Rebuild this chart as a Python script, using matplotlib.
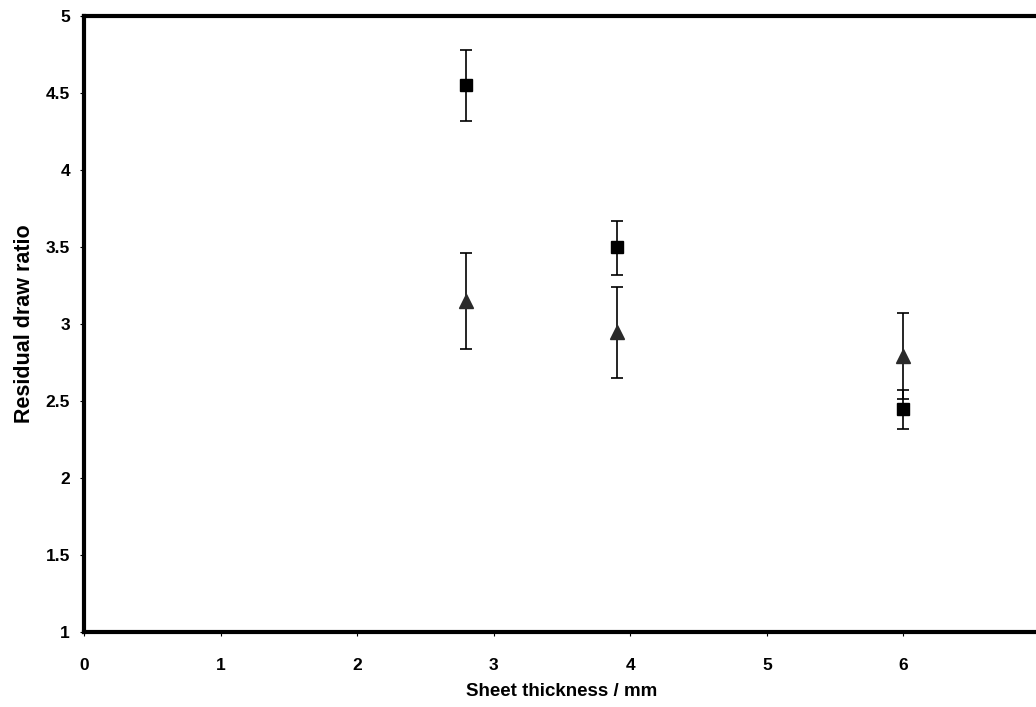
import matplotlib.pyplot as plt

plt.rcParams['font.family'] = ['Liberation Sans', 'DejaVu Sans']

# Residual draw ratio vs sheet thickness
thickness = [2.8, 3.9, 6.0]

square_ratio = [4.55, 3.50, 2.45]
square_err_lo = [0.23, 0.18, 0.13]
square_err_hi = [0.23, 0.17, 0.12]

triangle_ratio = [3.15, 2.95, 2.79]
triangle_err_lo = [0.31, 0.30, 0.28]
triangle_err_hi = [0.31, 0.29, 0.28]

x_ticks = [0, 1, 2, 3, 4, 5, 6, 7]
y_ticks = [1, 1.5, 2, 2.5, 3, 3.5, 4, 4.5, 5]

fig = plt.figure(figsize=(10.36, 7.07), dpi=100)
ax = fig.add_axes([84 / 1036, 75 / 707, 956 / 1036, 616 / 707])

ax.errorbar(thickness, triangle_ratio, yerr=[triangle_err_lo, triangle_err_hi],
            fmt='^', color='black', mfc='#2a2a2a', mec='#2a2a2a', ms=9.5,
            elinewidth=1.2, capsize=4, capthick=1.2, zorder=3)
ax.errorbar(thickness, square_ratio, yerr=[square_err_lo, square_err_hi],
            fmt='s', color='black', mfc='black', mec='black', ms=8.5,
            elinewidth=1.2, capsize=4, capthick=1.2, zorder=4)

ax.set_xlim(0, 7)
ax.set_ylim(1, 5)
ax.set_xticks(x_ticks)
ax.set_yticks(y_ticks)
ax.set_xticklabels([f"{v:g}" for v in x_ticks], fontsize=12.5, fontweight='bold')
ax.set_yticklabels([f"{v:g}" for v in y_ticks], fontsize=12.5, fontweight='bold')
ax.tick_params(direction='out', length=3, width=0.8)
ax.tick_params(axis='x', pad=16)
ax.tick_params(axis='y', pad=7)

ax.set_xlabel("Sheet thickness / mm", fontsize=13.5, fontweight='bold', labelpad=7)
ax.set_ylabel("Residual draw ratio", fontsize=15.5, fontweight='bold', labelpad=8)

for side in ('left', 'top', 'bottom'):
    ax.spines[side].set_linewidth(3)
ax.spines['right'].set_visible(False)

fig.savefig("out.png", dpi=100)
